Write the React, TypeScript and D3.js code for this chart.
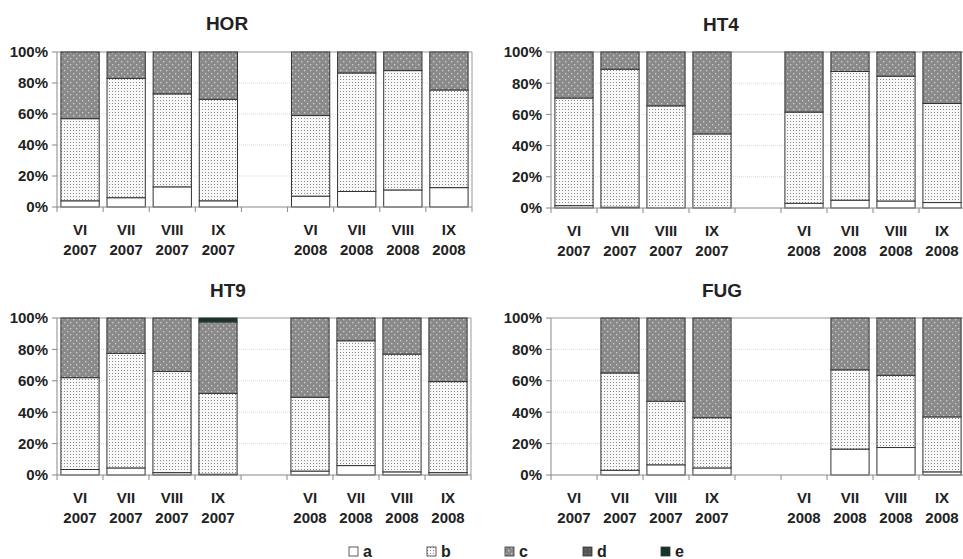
import React from 'react';
import * as d3 from 'd3';

// months on the x axis, with one empty slot between the two years
const SLOTS = ['VI 2007', 'VII 2007', 'VIII 2007', 'IX 2007', 'gap', 'VI 2008', 'VII 2008', 'VIII 2008', 'IX 2008'];
const MONTHS = ['VI 2007', 'VII 2007', 'VIII 2007', 'IX 2007', 'VI 2008', 'VII 2008', 'VIII 2008', 'IX 2008'];
const SERIES = ['a', 'b', 'c', 'd', 'e'];
const Y_TICKS = [0, 20, 40, 60, 80, 100];

// percentage shares per month
const HOR_A = [4, 6, 13, 4, 7, 10, 11, 12.5];
const HOR_B = [53, 77, 60, 65.5, 52, 76.5, 77, 63];
const HOR_C = [43, 17, 27, 30.5, 41, 13.5, 12, 24.5];
const HOR_D = [0, 0, 0, 0, 0, 0, 0, 0];
const HOR_E = [0, 0, 0, 0, 0, 0, 0, 0];

const HT4_A = [1.5, 0.5, 0, 0, 3, 5, 4.5, 3.5];
const HT4_B = [69, 88.5, 65.5, 47.5, 58.5, 82.5, 80, 63.5];
const HT4_C = [29.5, 11, 34.5, 52.5, 38.5, 12.5, 15.5, 33];
const HT4_D = [0, 0, 0, 0, 0, 0, 0, 0];
const HT4_E = [0, 0, 0, 0, 0, 0, 0, 0];

const HT9_A = [3.5, 4.5, 1.5, 0.5, 2.5, 6, 2, 1.5];
const HT9_B = [58.5, 73, 64.5, 51.5, 47, 79.5, 75, 58];
const HT9_C = [38, 22.5, 34, 45.5, 50.5, 14.5, 23, 40.5];
const HT9_D = [0, 0, 0, 0, 0, 0, 0, 0];
const HT9_E = [0, 0, 0, 2.5, 0, 0, 0, 0];

const FUG_A = [0, 3, 6.5, 4.5, 0, 16.5, 17.5, 2];
const FUG_B = [0, 62, 40.5, 32, 0, 50.5, 46, 35];
const FUG_C = [0, 35, 53, 63.5, 0, 33, 36.5, 63];
const FUG_D = [0, 0, 0, 0, 0, 0, 0, 0];
const FUG_E = [0, 0, 0, 0, 0, 0, 0, 0];

const FONT = 'Liberation Sans, Arial, sans-serif';

const PANELS = [
  { title: 'HOR', cols: [HOR_A, HOR_B, HOR_C, HOR_D, HOR_E], x0: 57, x1: 472, y0: 52, y1: 207, tx: 227, ty: 30 },
  { title: 'HT4', cols: [HT4_A, HT4_B, HT4_C, HT4_D, HT4_E], x0: 551, x1: 965, y0: 52, y1: 208, tx: 721, ty: 31 },
  { title: 'HT9', cols: [HT9_A, HT9_B, HT9_C, HT9_D, HT9_E], x0: 57, x1: 471, y0: 318, y1: 475, tx: 228, ty: 297 },
  { title: 'FUG', cols: [FUG_A, FUG_B, FUG_C, FUG_D, FUG_E], x0: 551, x1: 965, y0: 318, y1: 475, tx: 722, ty: 297 },
];

const FILL: Record<string, string> = {
  a: '#ffffff',
  b: 'url(#patB)',
  c: 'url(#patC)',
  d: 'url(#patD)',
  e: '#14352c',
};

function Panel({ p }: { p: (typeof PANELS)[number] }) {
  const x = d3.scaleBand().domain(SLOTS).range([p.x0, p.x1]).paddingInner(0.17).paddingOuter(0.085);
  const y = d3.scaleLinear().domain([0, 100]).range([p.y1, p.y0]);
  const rows = MONTHS.map((m, i) => {
    const r: Record<string, number | string> = { month: m };
    SERIES.forEach((s, k) => (r[s] = p.cols[k][i]));
    return r;
  });
  const stacked = d3.stack<any>().keys(SERIES)(rows);
  const step = x.step();
  const bounds = d3.range(SLOTS.length + 1).map((i) => p.x0 + i * step);

  return (
    <g>
      <text x={p.tx} y={p.ty} textAnchor="middle" fontFamily={FONT} fontWeight="bold" fontSize={19} fill="#222">
        {p.title}
      </text>
      {Y_TICKS.filter((t) => t > 0 && t < 100).map((t) => (
        <line key={t} x1={p.x0} x2={p.x1} y1={y(t)} y2={y(t)} stroke="#d8d8d8" strokeDasharray="1 1" />
      ))}
      <line x1={p.x0} x2={p.x1} y1={y(100)} y2={y(100)} stroke="#999" />
      <line x1={p.x1} x2={p.x1} y1={y(100)} y2={y(0)} stroke="#999" />
      {stacked.map((layer) =>
        layer.map((d, i) => {
          const h = y(d[0]) - y(d[1]);
          if (h <= 0) return null;
          return (
            <rect
              key={layer.key + i}
              x={x(MONTHS[i])}
              width={x.bandwidth()}
              y={y(d[1])}
              height={h}
              fill={FILL[layer.key]}
              stroke="#333"
              strokeWidth={1}
            />
          );
        })
      )}
      <line x1={p.x0} x2={p.x0} y1={y(100)} y2={y(0)} stroke="#888" />
      <line x1={p.x0} x2={p.x1} y1={y(0)} y2={y(0)} stroke="#888" />
      {Y_TICKS.map((t) => (
        <g key={t}>
          <line x1={p.x0 - 5} x2={p.x0} y1={y(t)} y2={y(t)} stroke="#888" />
          <text x={p.x0 - 9} y={y(t)} dy="0.36em" textAnchor="end" fontFamily={FONT} fontWeight="bold" fontSize={15} fill="#222">
            {t}%
          </text>
        </g>
      ))}
      {bounds.map((bx, i) => (
        <line key={i} x1={bx} x2={bx} y1={y(0)} y2={y(0) + 5} stroke="#888" />
      ))}
      {MONTHS.map((m) => {
        const [mon, yr] = m.split(' ');
        const cx = (x(m) ?? 0) + x.bandwidth() / 2;
        return (
          <g key={m} fontFamily={FONT} fontWeight="bold" fontSize={15} fill="#222" textAnchor="middle">
            <text x={cx} y={y(0) + 28}>{mon}</text>
            <text x={cx} y={y(0) + 48}>{yr}</text>
          </g>
        );
      })}
    </g>
  );
}

export default function App() {
  const legendX = d3.scalePoint().domain(SERIES).range([349, 661]);
  return (
    <div style={{ position: 'absolute', left: 0, top: 0 }}>
      <svg width={963} height={559} style={{ display: 'block', background: '#fff' }}>
        <defs>
          <pattern id="patB" width={3} height={3} patternUnits="userSpaceOnUse">
            <rect width={3} height={3} fill="#f8f8f8" />
            <rect x={1} y={1} width={1} height={1} fill="#8a8a8a" />
          </pattern>
          <pattern id="patC" width={6} height={6} patternUnits="userSpaceOnUse">
            <rect width={6} height={6} fill="#8a8a8a" />
            <rect x={1} y={1} width={1.3} height={1.3} fill="#cfcfcf" />
            <rect x={4} y={4} width={1.3} height={1.3} fill="#cfcfcf" />
          </pattern>
          <pattern id="patD" width={4} height={4} patternUnits="userSpaceOnUse">
            <rect width={4} height={4} fill="#555" />
            <rect x={1} y={1} width={1} height={1} fill="#888" />
          </pattern>
        </defs>
        {PANELS.map((p) => (
          <Panel key={p.title} p={p} />
        ))}
        {SERIES.map((s) => (
          <g key={s}>
            <rect x={legendX(s)} y={547} width={9} height={9} fill={FILL[s]} stroke="#333" strokeWidth={0.8} />
            <text x={(legendX(s) ?? 0) + 14} y={557} fontFamily={FONT} fontWeight="bold" fontSize={16} fill="#222">
              {s}
            </text>
          </g>
        ))}
      </svg>
    </div>
  );
}
